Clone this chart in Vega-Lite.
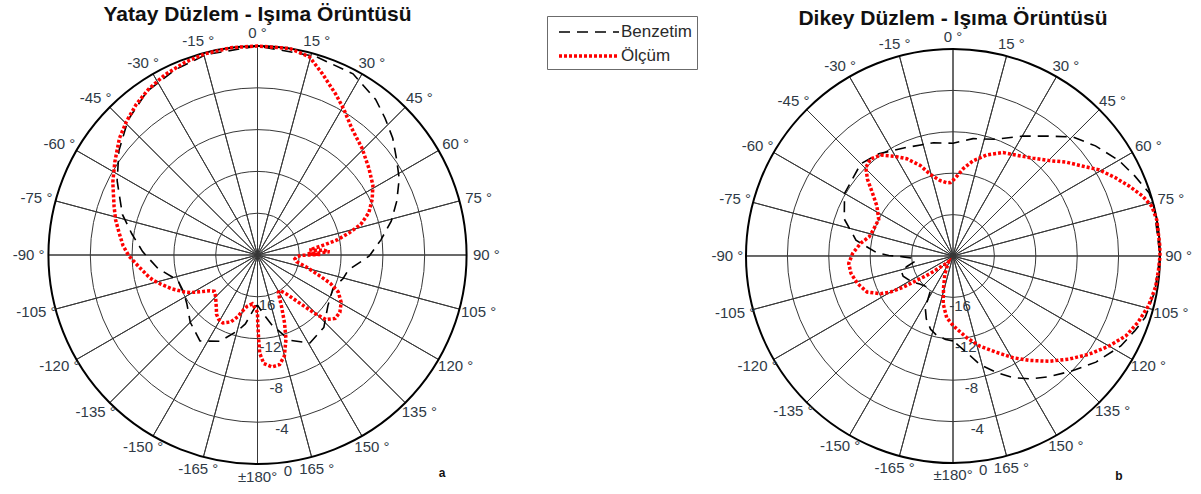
{
  "$schema": "https://vega.github.io/schema/vega-lite/v6.json",
  "padding": 0,
  "spacing": 190,
  "background": "white",
  "config": {
    "view": {"stroke": null},
    "font": "Liberation Sans",
    "legend": {
      "orient": "none", "legendX": 547, "legendY": 16,
      "strokeColor": "#6b6b6b", "fillColor": "#ffffff",
      "padding": 5, "rowPadding": 4,
      "labelFont": "Liberation Sans", "labelFontSize": 17, "labelColor": "#2a2a2a",
      "symbolType": "M-0.5,0H5.5", "symbolSize": 400, "labelOffset": 45
    }
  },
  "resolve": {"scale": {"radius": "independent", "x": "independent", "y": "independent"}},
  "datasets": {
    "rings": [
      {"db": -16, "lab": "-16"}, {"db": -12, "lab": "-12"}, {"db": -8, "lab": "-8"}, {"db": -4, "lab": "-4"}, {"db": 0, "lab": "0"}
    ],
    "spokes": [
      {"a": 0}, {"a": 15}, {"a": 30}, {"a": 45}, {"a": 60}, {"a": 75}, {"a": 90}, {"a": 105}, {"a": 120}, {"a": 135}, {"a": 150}, {"a": 165},
      {"a": 180}, {"a": 195}, {"a": 210}, {"a": 225}, {"a": 240}, {"a": 255}, {"a": 270}, {"a": 285}, {"a": 300}, {"a": 315}, {"a": 330}, {"a": 345}
    ],
    "angles": [
      {"a": 0, "t": "0 °"}, {"a": 15, "t": "15 °"}, {"a": 30, "t": "30 °"}, {"a": 45, "t": "45 °"}, {"a": 60, "t": "60 °"}, {"a": 75, "t": "75 °"},
      {"a": 90, "t": "90 °"}, {"a": 105, "t": "105 °"}, {"a": 120, "t": "120 °"}, {"a": 135, "t": "135 °"}, {"a": 150, "t": "150 °"}, {"a": 165, "t": "165 °"},
      {"a": 180, "t": "±180°"}, {"a": -165, "t": "-165 °"}, {"a": -150, "t": "-150 °"}, {"a": -135, "t": "-135 °"}, {"a": -120, "t": "-120 °"}, {"a": -105, "t": "-105 °"},
      {"a": -90, "t": "-90 °"}, {"a": -75, "t": "-75 °"}, {"a": -60, "t": "-60 °"}, {"a": -45, "t": "-45 °"}, {"a": -30, "t": "-30 °"}, {"a": -15, "t": "-15 °"}
    ],
    "yatay": [
      {"s": "Benzetim", "a": -180, "db": -15.2}, {"s": "Benzetim", "a": -177.3, "db": -15.0}, {"s": "Benzetim", "a": -170, "db": -13.3},
      {"s": "Benzetim", "a": -165.3, "db": -12.5}, {"s": "Benzetim", "a": -156.5, "db": -11.0}, {"s": "Benzetim", "a": -146.2, "db": -10.1},
      {"s": "Benzetim", "a": -135, "db": -10.9}, {"s": "Benzetim", "a": -124.4, "db": -11.8}, {"s": "Benzetim", "a": -116, "db": -12.1},
      {"s": "Benzetim", "a": -107.6, "db": -12.0}, {"s": "Benzetim", "a": -97.8, "db": -10.4}, {"s": "Benzetim", "a": -90, "db": -9.3},
      {"s": "Benzetim", "a": -88.3, "db": -9.0}, {"s": "Benzetim", "a": -80.4, "db": -7.8}, {"s": "Benzetim", "a": -73.3, "db": -6.5},
      {"s": "Benzetim", "a": -62.1, "db": -4.8}, {"s": "Benzetim", "a": -53, "db": -3.4}, {"s": "Benzetim", "a": -43.8, "db": -2.1},
      {"s": "Benzetim", "a": -34, "db": -1.1}, {"s": "Benzetim", "a": -24, "db": -0.6}, {"s": "Benzetim", "a": -14.4, "db": -0.2},
      {"s": "Benzetim", "a": 0, "db": 0}, {"s": "Benzetim", "a": 16.3, "db": -0.2}, {"s": "Benzetim", "a": 27.8, "db": -0.4},
      {"s": "Benzetim", "a": 37.2, "db": -1.3}, {"s": "Benzetim", "a": 43, "db": -2.1}, {"s": "Benzetim", "a": 49.2, "db": -2.9},
      {"s": "Benzetim", "a": 55.9, "db": -3.9}, {"s": "Benzetim", "a": 61.7, "db": -4.6}, {"s": "Benzetim", "a": 68.8, "db": -5.7},
      {"s": "Benzetim", "a": 75.8, "db": -6.8}, {"s": "Benzetim", "a": 83, "db": -8.1}, {"s": "Benzetim", "a": 90.5, "db": -9.3},
      {"s": "Benzetim", "a": 99.5, "db": -11.2}, {"s": "Benzetim", "a": 105.3, "db": -11.5}, {"s": "Benzetim", "a": 114, "db": -12.1},
      {"s": "Benzetim", "a": 125.7, "db": -11.7}, {"s": "Benzetim", "a": 137.5, "db": -10.6}, {"s": "Benzetim", "a": 149.2, "db": -10.2},
      {"s": "Benzetim", "a": 159.5, "db": -11.3}, {"s": "Benzetim", "a": 168.5, "db": -13.2}, {"s": "Benzetim", "a": 174, "db": -14.3},
      {"s": "Benzetim", "a": 180, "db": -15.2},
      {"s": "Ölçüm", "a": -180, "db": -14.5}, {"s": "Ölçüm", "a": -178.9, "db": -14.7}, {"s": "Ölçüm", "a": -174, "db": -15.3},
      {"s": "Ölçüm", "a": -168.7, "db": -15.0}, {"s": "Ölçüm", "a": -164.7, "db": -14.4}, {"s": "Ölçüm", "a": -162.2, "db": -13.8},
      {"s": "Ölçüm", "a": -158.2, "db": -13.1}, {"s": "Ölçüm", "a": -153, "db": -12.7}, {"s": "Ölçüm", "a": -149, "db": -12.8},
      {"s": "Ölçüm", "a": -145.4, "db": -13.1}, {"s": "Ölçüm", "a": -142, "db": -13.6}, {"s": "Ölçüm", "a": -137.5, "db": -14.1},
      {"s": "Ölçüm", "a": -134, "db": -14.4}, {"s": "Ölçüm", "a": -130, "db": -14.6}, {"s": "Ölçüm", "a": -127, "db": -14.3},
      {"s": "Ölçüm", "a": -124.7, "db": -13.9}, {"s": "Ölçüm", "a": -122.8, "db": -13.5}, {"s": "Ölçüm", "a": -119.4, "db": -12.7},
      {"s": "Ölçüm", "a": -117, "db": -12.2}, {"s": "Ölçüm", "a": -115.8, "db": -12.0}, {"s": "Ölçüm", "a": -111.6, "db": -11.2},
      {"s": "Ölçüm", "a": -106.5, "db": -10.3}, {"s": "Ölçüm", "a": -104, "db": -9.8}, {"s": "Ölçüm", "a": -101.5, "db": -9.4},
      {"s": "Ölçüm", "a": -95.7, "db": -8.6}, {"s": "Ölçüm", "a": -90.5, "db": -7.7}, {"s": "Ölçüm", "a": -86, "db": -7.1},
      {"s": "Ölçüm", "a": -81, "db": -6.6}, {"s": "Ölçüm", "a": -76, "db": -6.0}, {"s": "Ölçüm", "a": -71.2, "db": -5.5},
      {"s": "Ölçüm", "a": -63.3, "db": -4.5}, {"s": "Ölçüm", "a": -56.9, "db": -3.7}, {"s": "Ölçüm", "a": -49.8, "db": -2.7},
      {"s": "Ölçüm", "a": -44.5, "db": -2.1}, {"s": "Ölçüm", "a": -38.9, "db": -1.5}, {"s": "Ölçüm", "a": -33.2, "db": -1.0},
      {"s": "Ölçüm", "a": -27, "db": -0.6}, {"s": "Ölçüm", "a": -20.6, "db": -0.3}, {"s": "Ölçüm", "a": -14.7, "db": -0.1},
      {"s": "Ölçüm", "a": -7.3, "db": 0}, {"s": "Ölçüm", "a": 0, "db": 0}, {"s": "Ölçüm", "a": 8.9, "db": 0},
      {"s": "Ölçüm", "a": 14.7, "db": -0.4}, {"s": "Ölçüm", "a": 19.8, "db": -1.6}, {"s": "Ölçüm", "a": 26, "db": -2.9},
      {"s": "Ölçüm", "a": 30.7, "db": -3.8}, {"s": "Ölçüm", "a": 36.7, "db": -4.9}, {"s": "Ölçüm", "a": 44.4, "db": -5.7},
      {"s": "Ölçüm", "a": 52.2, "db": -6.5}, {"s": "Ölçüm", "a": 58.9, "db": -7.1}, {"s": "Ölçüm", "a": 64.1, "db": -7.8},
      {"s": "Ölçüm", "a": 69.2, "db": -8.6}, {"s": "Ölçüm", "a": 73.5, "db": -9.7}, {"s": "Ölçüm", "a": 76.5, "db": -11.0},
      {"s": "Ölçüm", "a": 79.2, "db": -12.2}, {"s": "Ölçüm", "a": 81.3, "db": -13.5}, {"s": "Ölçüm", "a": 84.5, "db": -15.0},
      {"s": "Ölçüm", "a": 86, "db": -13.6}, {"s": "Ölçüm", "a": 87.5, "db": -13.1}, {"s": "Ölçüm", "a": 88.5, "db": -15.2},
      {"s": "Ölçüm", "a": 89.5, "db": -14.0}, {"s": "Ölçüm", "a": 90.5, "db": -15.8}, {"s": "Ölçüm", "a": 92, "db": -16.2},
      {"s": "Ölçüm", "a": 96, "db": -16.4}, {"s": "Ölçüm", "a": 99.8, "db": -16.2}, {"s": "Ölçüm", "a": 103.7, "db": -15.2},
      {"s": "Ölçüm", "a": 108.3, "db": -13.8}, {"s": "Ölçüm", "a": 111.3, "db": -12.5}, {"s": "Ölçüm", "a": 114.6, "db": -11.5},
      {"s": "Ölçüm", "a": 119.5, "db": -10.8}, {"s": "Ölçüm", "a": 124.8, "db": -10.4}, {"s": "Ölçüm", "a": 129.2, "db": -10.4},
      {"s": "Ölçüm", "a": 133.3, "db": -11.0}, {"s": "Ölçüm", "a": 135.4, "db": -12.1}, {"s": "Ölçüm", "a": 137.3, "db": -13.2},
      {"s": "Ölçüm", "a": 139.8, "db": -14.3}, {"s": "Ölçüm", "a": 143.6, "db": -15.4}, {"s": "Ölçüm", "a": 148, "db": -16.0},
      {"s": "Ölçüm", "a": 151, "db": -15.9}, {"s": "Ölçüm", "a": 154.9, "db": -14.6}, {"s": "Ölçüm", "a": 158.3, "db": -13.0},
      {"s": "Ölçüm", "a": 161.3, "db": -11.5}, {"s": "Ölçüm", "a": 165.1, "db": -10.0}, {"s": "Ölçüm", "a": 168.6, "db": -9.3},
      {"s": "Ölçüm", "a": 172.6, "db": -9.2}, {"s": "Ölçüm", "a": 176.7, "db": -9.6}, {"s": "Ölçüm", "a": 178.7, "db": -10.6},
      {"s": "Ölçüm", "a": 179.2, "db": -11.9}, {"s": "Ölçüm", "a": 179.8, "db": -13.5}, {"s": "Ölçüm", "a": 180, "db": -14.5}
    ],
    "dikey": [
      {"s": "Benzetim", "a": -180, "db": -11.8}, {"s": "Benzetim", "a": -175, "db": -11.9}, {"s": "Benzetim", "a": -168, "db": -12.2},
      {"s": "Benzetim", "a": -163, "db": -12.6}, {"s": "Benzetim", "a": -157, "db": -13.4}, {"s": "Benzetim", "a": -152, "db": -14.3},
      {"s": "Benzetim", "a": -147, "db": -16.0}, {"s": "Benzetim", "a": -140, "db": -16.1}, {"s": "Benzetim", "a": -130, "db": -15.8},
      {"s": "Benzetim", "a": -122, "db": -15.3}, {"s": "Benzetim", "a": -112, "db": -14.8}, {"s": "Benzetim", "a": -107, "db": -14.8},
      {"s": "Benzetim", "a": -103, "db": -15.4}, {"s": "Benzetim", "a": -98, "db": -16.3}, {"s": "Benzetim", "a": -94, "db": -16.3},
      {"s": "Benzetim", "a": -91, "db": -15.2}, {"s": "Benzetim", "a": -89.5, "db": -13.8}, {"s": "Benzetim", "a": -87.5, "db": -12.6},
      {"s": "Benzetim", "a": -82.1, "db": -11.0}, {"s": "Benzetim", "a": -80.7, "db": -10.5}, {"s": "Benzetim", "a": -71.2, "db": -8.9},
      {"s": "Benzetim", "a": -60, "db": -7.9}, {"s": "Benzetim", "a": -45, "db": -7.4}, {"s": "Benzetim", "a": -36, "db": -7.8},
      {"s": "Benzetim", "a": -22.9, "db": -8.6}, {"s": "Benzetim", "a": -9.8, "db": -8.9}, {"s": "Benzetim", "a": 0, "db": -9.1},
      {"s": "Benzetim", "a": 9.7, "db": -8.5}, {"s": "Benzetim", "a": 20, "db": -8.0}, {"s": "Benzetim", "a": 30.2, "db": -6.6},
      {"s": "Benzetim", "a": 38, "db": -5.3}, {"s": "Benzetim", "a": 45.1, "db": -3.7}, {"s": "Benzetim", "a": 52.3, "db": -2.6},
      {"s": "Benzetim", "a": 60.1, "db": -1.5}, {"s": "Benzetim", "a": 66.3, "db": -0.8}, {"s": "Benzetim", "a": 72.1, "db": -0.1},
      {"s": "Benzetim", "a": 76, "db": 0}, {"s": "Benzetim", "a": 90, "db": 0}, {"s": "Benzetim", "a": 100, "db": -0.2},
      {"s": "Benzetim", "a": 107.7, "db": -0.5}, {"s": "Benzetim", "a": 112.3, "db": -1.0}, {"s": "Benzetim", "a": 118.2, "db": -1.6},
      {"s": "Benzetim", "a": 126.6, "db": -2.8}, {"s": "Benzetim", "a": 133.9, "db": -4.0}, {"s": "Benzetim", "a": 141.5, "db": -5.1},
      {"s": "Benzetim", "a": 148, "db": -6.0}, {"s": "Benzetim", "a": 153.7, "db": -6.9}, {"s": "Benzetim", "a": 159.6, "db": -8.0},
      {"s": "Benzetim", "a": 166.1, "db": -9.2}, {"s": "Benzetim", "a": 172, "db": -10.6}, {"s": "Benzetim", "a": 180, "db": -11.8},
      {"s": "Ölçüm", "a": -180, "db": -13.3}, {"s": "Ölçüm", "a": -174.2, "db": -14.0}, {"s": "Ölçüm", "a": -168.3, "db": -15.3},
      {"s": "Ölçüm", "a": -163, "db": -16.9}, {"s": "Ölçüm", "a": -155.7, "db": -18.1}, {"s": "Ölçüm", "a": -142, "db": -19.3},
      {"s": "Ölçüm", "a": -133.7, "db": -18.7}, {"s": "Ölçüm", "a": -127.5, "db": -17.2}, {"s": "Ölçüm", "a": -124, "db": -15.8},
      {"s": "Ölçüm", "a": -122.2, "db": -14.4}, {"s": "Ölçüm", "a": -119.9, "db": -13.0}, {"s": "Ölçüm", "a": -117.5, "db": -12.1},
      {"s": "Ölçüm", "a": -112.8, "db": -11.0}, {"s": "Ölçüm", "a": -106.1, "db": -10.4}, {"s": "Ölçüm", "a": -99.7, "db": -10.0},
      {"s": "Ölçüm", "a": -94.1, "db": -9.9}, {"s": "Ölçüm", "a": -88.5, "db": -10.3}, {"s": "Ölçüm", "a": -82.1, "db": -11.0},
      {"s": "Ölçüm", "a": -77, "db": -11.7}, {"s": "Ölçüm", "a": -71.6, "db": -11.9}, {"s": "Ölçüm", "a": -63.8, "db": -12.0},
      {"s": "Ölçüm", "a": -56.7, "db": -11.2}, {"s": "Ölçüm", "a": -51.9, "db": -10.1}, {"s": "Ölçüm", "a": -48.1, "db": -8.9},
      {"s": "Ölçüm", "a": -44.6, "db": -8.0}, {"s": "Ölçüm", "a": -40.4, "db": -7.7}, {"s": "Ölçüm", "a": -35.6, "db": -8.0},
      {"s": "Ölçüm", "a": -30.6, "db": -8.8}, {"s": "Ölçüm", "a": -25.4, "db": -9.6}, {"s": "Ölçüm", "a": -19.9, "db": -10.7},
      {"s": "Ölçüm", "a": -15.6, "db": -11.8}, {"s": "Ölçüm", "a": -9.8, "db": -12.6}, {"s": "Ölçüm", "a": -4.9, "db": -12.9},
      {"s": "Ölçüm", "a": -2, "db": -12.9}, {"s": "Ölçüm", "a": 1.5, "db": -12.5}, {"s": "Ölçüm", "a": 6.7, "db": -11.5},
      {"s": "Ölçüm", "a": 11.9, "db": -10.6}, {"s": "Ölçüm", "a": 18.5, "db": -9.7}, {"s": "Ölçüm", "a": 25.8, "db": -8.9},
      {"s": "Ölçüm", "a": 32.1, "db": -8.5}, {"s": "Ölçüm", "a": 39.2, "db": -7.8}, {"s": "Ölçüm", "a": 45.3, "db": -6.9},
      {"s": "Ölçüm", "a": 50.3, "db": -5.8}, {"s": "Ölçüm", "a": 55.1, "db": -4.8}, {"s": "Ölçüm", "a": 59.5, "db": -3.6},
      {"s": "Ölçüm", "a": 64.2, "db": -2.6}, {"s": "Ölçüm", "a": 68.3, "db": -1.7}, {"s": "Ölçüm", "a": 72.4, "db": -0.8},
      {"s": "Ölçüm", "a": 76, "db": -0.2}, {"s": "Ölçüm", "a": 80, "db": 0}, {"s": "Ölçüm", "a": 87, "db": 0},
      {"s": "Ölçüm", "a": 90, "db": 0}, {"s": "Ölçüm", "a": 94, "db": -0.1}, {"s": "Ölçüm", "a": 98.7, "db": -0.2},
      {"s": "Ölçüm", "a": 104.2, "db": -0.5}, {"s": "Ölçüm", "a": 109.6, "db": -1.0}, {"s": "Ölçüm", "a": 114.8, "db": -1.6},
      {"s": "Ölçüm", "a": 120, "db": -2.6}, {"s": "Ölçüm", "a": 125.9, "db": -3.8}, {"s": "Ölçüm", "a": 131.6, "db": -5.0},
      {"s": "Ölçüm", "a": 137.5, "db": -6.2}, {"s": "Ölçüm", "a": 143.8, "db": -7.5}, {"s": "Ölçüm", "a": 149.5, "db": -8.6},
      {"s": "Ölçüm", "a": 155.8, "db": -9.8}, {"s": "Ölçüm", "a": 163.4, "db": -10.9}, {"s": "Ölçüm", "a": 170.5, "db": -12.0},
      {"s": "Ölçüm", "a": 178.3, "db": -13.1}, {"s": "Ölçüm", "a": 180, "db": -13.3}
    ]
  },
  "hconcat": [
    {
      "width": 515,
      "height": 494,
      "layer": [
        {
          "data": {"name": "rings"},
          "transform": [{"filter": "datum.db < 0"}],
          "mark": {"type": "arc", "filled": false, "stroke": "#383838", "strokeWidth": 1, "theta": 0, "theta2": 6.2832},
          "encoding": {
            "x": {"datum": 0, "type": "quantitative", "scale": {"domain": [-1.2321, 1.2321], "nice": false, "zero": false}, "axis": null},
            "y": {"datum": 0, "type": "quantitative", "scale": {"domain": [-1.1435, 1.2201], "nice": false, "zero": false}, "axis": null},
            "radius": {"field": "db", "type": "quantitative", "scale": {"type": "linear", "domain": [-20, 0], "range": [0, 209], "zero": false, "nice": false}},
            "radius2": {"datum": -20}
          }
        },
        {
          "data": {"name": "spokes"},
          "mark": {"type": "arc", "filled": false, "stroke": "#383838", "strokeWidth": 1},
          "encoding": {
            "x": {"datum": 0, "type": "quantitative"},
            "y": {"datum": 0, "type": "quantitative"},
            "theta": {"field": "a", "type": "quantitative", "stack": false, "scale": {"type": "linear", "domain": [0, 360], "range": [0, 6.283185307179586], "zero": false, "nice": false}},
            "theta2": {"field": "a"},
            "radius": {"datum": 0, "type": "quantitative"},
            "radius2": {"datum": -20}
          }
        },
        {
          "data": {"name": "rings"},
          "transform": [{"filter": "datum.db == 0"}],
          "mark": {"type": "arc", "filled": false, "stroke": "#000000", "strokeWidth": 2, "theta": 0, "theta2": 6.2832},
          "encoding": {
            "x": {"datum": 0, "type": "quantitative"},
            "y": {"datum": 0, "type": "quantitative"},
            "radius": {"field": "db", "type": "quantitative"},
            "radius2": {"datum": -20}
          }
        },
        {
          "data": {"name": "angles"},
          "transform": [
            {"calculate": "1.095 * sin(datum.a * PI / 180)", "as": "lx"},
            {"calculate": "1.06 * cos(datum.a * PI / 180)", "as": "ly"}
          ],
          "mark": {"type": "text", "font": "Liberation Sans", "fontSize": 15, "color": "#2f3a46", "align": "center", "baseline": "middle"},
          "encoding": {
            "x": {"field": "lx", "type": "quantitative"},
            "y": {"field": "ly", "type": "quantitative"},
            "text": {"field": "t"}
          }
        },
        {
          "data": {"name": "rings"},
          "mark": {"type": "text", "font": "Liberation Sans", "fontSize": 15, "color": "#2f3a46", "align": "center", "baseline": "middle", "radiusOffset": 9},
          "encoding": {
            "x": {"datum": 0, "type": "quantitative"},
            "y": {"datum": 0, "type": "quantitative"},
            "theta": {"datum": 172, "type": "quantitative"},
            "radius": {"field": "db", "type": "quantitative"},
            "text": {"field": "lab"}
          }
        },
        {
          "data": {"name": "yatay"},
          "transform": [
            {"calculate": "(datum.db + 20) / 20 * sin(datum.a * PI / 180)", "as": "px"},
            {"calculate": "(datum.db + 20) / 20 * cos(datum.a * PI / 180)", "as": "py"}
          ],
          "mark": {"type": "line", "strokeCap": "butt"},
          "encoding": {
            "x": {"field": "px", "type": "quantitative"},
            "y": {"field": "py", "type": "quantitative"},
            "order": {"field": "a", "type": "quantitative"},
            "color": {"field": "s", "type": "nominal", "title": null, "scale": {"domain": ["Benzetim", "Ölçüm"], "range": ["#000000", "#ff0000"]}},
            "strokeDash": {"field": "s", "type": "nominal", "title": null, "scale": {"domain": ["Benzetim", "Ölçüm"], "range": [[11, 7], [3, 2]]}},
            "strokeWidth": {"field": "s", "type": "nominal", "title": null, "scale": {"domain": ["Benzetim", "Ölçüm"], "range": [1.6, 3.5]}}
          }
        },
        {
          "data": {"values": [{"t": "Yatay Düzlem - Işıma Örüntüsü"}]},
          "mark": {"type": "text", "font": "Liberation Sans", "fontSize": 21, "fontWeight": "bold", "color": "#111111", "align": "center", "baseline": "middle"},
          "encoding": {
            "x": {"datum": 0, "type": "quantitative"},
            "y": {"datum": 1.1483, "type": "quantitative"},
            "text": {"field": "t"}
          }
        },
        {
          "data": {"values": [{"t": "a"}]},
          "mark": {"type": "text", "font": "Liberation Sans", "fontSize": 12, "fontWeight": "bold", "color": "#111111", "align": "center", "baseline": "middle"},
          "encoding": {
            "x": {"datum": 0.8828, "type": "quantitative"},
            "y": {"datum": -1.0431, "type": "quantitative"},
            "text": {"field": "t"}
          }
        }
      ]
    },
    {
      "width": 496,
      "height": 494,
      "layer": [
        {
          "data": {"name": "rings"},
          "transform": [{"filter": "datum.db < 0"}],
          "mark": {"type": "arc", "filled": false, "stroke": "#383838", "strokeWidth": 1, "theta": 0, "theta2": 6.2832},
          "encoding": {
            "x": {"datum": 0, "type": "quantitative", "scale": {"domain": [-1.1981, 1.1981], "nice": false, "zero": false}, "axis": null},
            "y": {"datum": 0, "type": "quantitative", "scale": {"domain": [-1.1498, 1.2367], "nice": false, "zero": false}, "axis": null},
            "radius": {"field": "db", "type": "quantitative", "scale": {"type": "linear", "domain": [-20, 0], "range": [0, 207], "zero": false, "nice": false}},
            "radius2": {"datum": -20}
          }
        },
        {
          "data": {"name": "spokes"},
          "mark": {"type": "arc", "filled": false, "stroke": "#383838", "strokeWidth": 1},
          "encoding": {
            "x": {"datum": 0, "type": "quantitative"},
            "y": {"datum": 0, "type": "quantitative"},
            "theta": {"field": "a", "type": "quantitative", "stack": false, "scale": {"type": "linear", "domain": [0, 360], "range": [0, 6.283185307179586], "zero": false, "nice": false}},
            "theta2": {"field": "a"},
            "radius": {"datum": 0, "type": "quantitative"},
            "radius2": {"datum": -20}
          }
        },
        {
          "data": {"name": "rings"},
          "transform": [{"filter": "datum.db == 0"}],
          "mark": {"type": "arc", "filled": false, "stroke": "#000000", "strokeWidth": 2, "theta": 0, "theta2": 6.2832},
          "encoding": {
            "x": {"datum": 0, "type": "quantitative"},
            "y": {"datum": 0, "type": "quantitative"},
            "radius": {"field": "db", "type": "quantitative"},
            "radius2": {"datum": -20}
          }
        },
        {
          "data": {"name": "angles"},
          "transform": [
            {"calculate": "1.09 * sin(datum.a * PI / 180)", "as": "lx"},
            {"calculate": "1.06 * cos(datum.a * PI / 180)", "as": "ly"}
          ],
          "mark": {"type": "text", "font": "Liberation Sans", "fontSize": 15, "color": "#2f3a46", "align": "center", "baseline": "middle"},
          "encoding": {
            "x": {"field": "lx", "type": "quantitative"},
            "y": {"field": "ly", "type": "quantitative"},
            "text": {"field": "t"}
          }
        },
        {
          "data": {"name": "rings"},
          "mark": {"type": "text", "font": "Liberation Sans", "fontSize": 15, "color": "#2f3a46", "align": "center", "baseline": "middle", "radiusOffset": 9},
          "encoding": {
            "x": {"datum": 0, "type": "quantitative"},
            "y": {"datum": 0, "type": "quantitative"},
            "theta": {"datum": 172, "type": "quantitative"},
            "radius": {"field": "db", "type": "quantitative"},
            "text": {"field": "lab"}
          }
        },
        {
          "data": {"name": "dikey"},
          "transform": [
            {"calculate": "(datum.db + 20) / 20 * sin(datum.a * PI / 180)", "as": "px"},
            {"calculate": "(datum.db + 20) / 20 * cos(datum.a * PI / 180)", "as": "py"}
          ],
          "mark": {"type": "line", "strokeCap": "butt"},
          "encoding": {
            "x": {"field": "px", "type": "quantitative"},
            "y": {"field": "py", "type": "quantitative"},
            "order": {"field": "a", "type": "quantitative"},
            "color": {"field": "s", "type": "nominal", "title": null, "scale": {"domain": ["Benzetim", "Ölçüm"], "range": ["#000000", "#ff0000"]}},
            "strokeDash": {"field": "s", "type": "nominal", "title": null, "scale": {"domain": ["Benzetim", "Ölçüm"], "range": [[11, 7], [3, 2]]}},
            "strokeWidth": {"field": "s", "type": "nominal", "title": null, "scale": {"domain": ["Benzetim", "Ölçüm"], "range": [1.6, 3.5]}}
          }
        },
        {
          "data": {"values": [{"t": "Dikey Düzlem - Işıma Örüntüsü"}]},
          "mark": {"type": "text", "font": "Liberation Sans", "fontSize": 21, "fontWeight": "bold", "color": "#111111", "align": "center", "baseline": "middle"},
          "encoding": {
            "x": {"datum": 0, "type": "quantitative"},
            "y": {"datum": 1.1425, "type": "quantitative"},
            "text": {"field": "t"}
          }
        },
        {
          "data": {"values": [{"t": "b"}]},
          "mark": {"type": "text", "font": "Liberation Sans", "fontSize": 12, "fontWeight": "bold", "color": "#111111", "align": "center", "baseline": "middle"},
          "encoding": {
            "x": {"datum": 0.8019, "type": "quantitative"},
            "y": {"datum": -1.0628, "type": "quantitative"},
            "text": {"field": "t"}
          }
        }
      ]
    }
  ]
}
